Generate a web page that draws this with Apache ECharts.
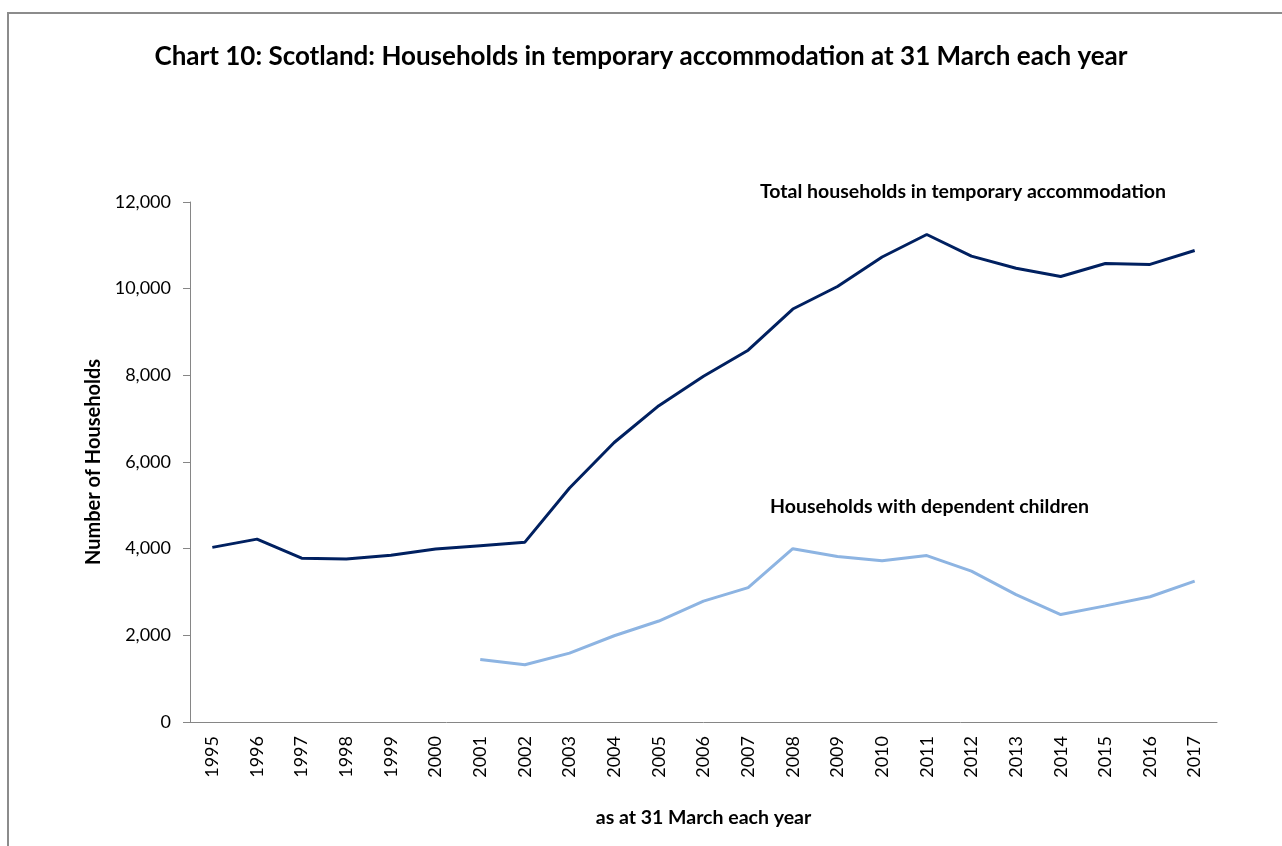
<!DOCTYPE html>
<html>
<head>
<meta charset="utf-8">
<script src="https://cdn.jsdelivr.net/npm/echarts@6/dist/echarts.min.js"></script>
<style>
  html, body { margin: 0; padding: 0; background: #fff; }
  #chart { width: 1282px; height: 846px; }
</style>
</head>
<body>
<div id="chart"></div>
<script>
const years = ['1995','1996','1997','1998','1999','2000','2001','2002','2003','2004','2005','2006',
  '2007','2008','2009','2010','2011','2012','2013','2014','2015','2016','2017'];
const totalHouseholds = [4030, 4220, 3780, 3760, 3850, 3990, 4070, 4150, 5400, 6450, 7300, 7980,
  8580, 9530, 10050, 10730, 11250, 10750, 10470, 10280, 10580, 10560, 10880];
const childHouseholds = [null, null, null, null, null, null, 1440, 1320, 1590, 1990, 2330, 2790,
  3100, 4000, 3820, 3720, 3840, 3480, 2940, 2480, 2680, 2890, 3250];
const yTicks = { min: 0, max: 12000, interval: 2000 };

// Lato is the closest installed match to Calibri
const font = 'Lato, sans-serif';

const chart = echarts.init(document.getElementById('chart'));

chart.setOption({
  animation: false,
  backgroundColor: '#fff',
  title: {
    text: 'Chart 10: Scotland: Households in temporary accommodation at 31 March each year',
    left: 'center',
    top: 39,
    textStyle: { fontFamily: font, fontWeight: 'bold', fontSize: 26, color: '#000' }
  },
  graphic: [
    {
      type: 'rect',
      shape: { x: 8, y: 13, width: 1400, height: 1000 },
      style: { fill: 'none', stroke: '#8c8c8c', lineWidth: 2 },
      silent: true
    },
    {
      type: 'text',
      left: 760, top: 182,
      style: { text: 'Total households in temporary accommodation', fontFamily: font,
        fontWeight: 'bold', fontSize: 19.5, fill: '#000' }
    },
    {
      type: 'text',
      left: 770, top: 497,
      style: { text: 'Households with dependent children', fontFamily: font,
        fontWeight: 'bold', fontSize: 19.5, fill: '#000' }
    }
  ],
  grid: { left: 190, right: 65, top: 202, bottom: 124 },
  xAxis: {
    type: 'category',
    data: years,
    boundaryGap: true,
    name: 'as at 31 March each year',
    nameLocation: 'middle',
    nameGap: 86,
    nameTextStyle: { fontFamily: font, fontWeight: 'bold', fontSize: 19.5, color: '#000' },
    axisLine: { lineStyle: { color: '#868686', width: 1 } },
    axisTick: { alignWithLabel: false, length: 7, lineStyle: { color: '#868686' } },
    axisLabel: { rotate: 90, interval: 0, fontFamily: font, fontSize: 18, color: '#000', margin: 14 }
  },
  yAxis: {
    type: 'value',
    min: yTicks.min,
    max: yTicks.max,
    interval: yTicks.interval,
    name: 'Number of Households',
    nameLocation: 'middle',
    nameGap: 86,
    nameRotate: 90,
    nameTextStyle: { fontFamily: font, fontWeight: 'bold', fontSize: 20, color: '#000' },
    axisLine: { show: true, lineStyle: { color: '#868686', width: 1 } },
    axisTick: { show: true, length: 7, lineStyle: { color: '#868686' } },
    splitLine: { show: false },
    axisLabel: {
      fontFamily: font, fontSize: 18, color: '#000', margin: 19,
      formatter: v => v.toLocaleString('en-GB')
    }
  },
  series: [
    {
      name: 'Total households in temporary accommodation',
      type: 'line',
      data: totalHouseholds,
      symbol: 'none',
      lineStyle: { color: '#002060', width: 3 },
      itemStyle: { color: '#002060' }
    },
    {
      name: 'Households with dependent children',
      type: 'line',
      data: childHouseholds,
      symbol: 'none',
      lineStyle: { color: '#8db4e2', width: 3 },
      itemStyle: { color: '#8db4e2' }
    }
  ]
});

window.addEventListener('resize', () => chart.resize());
</script>
</body>
</html>
